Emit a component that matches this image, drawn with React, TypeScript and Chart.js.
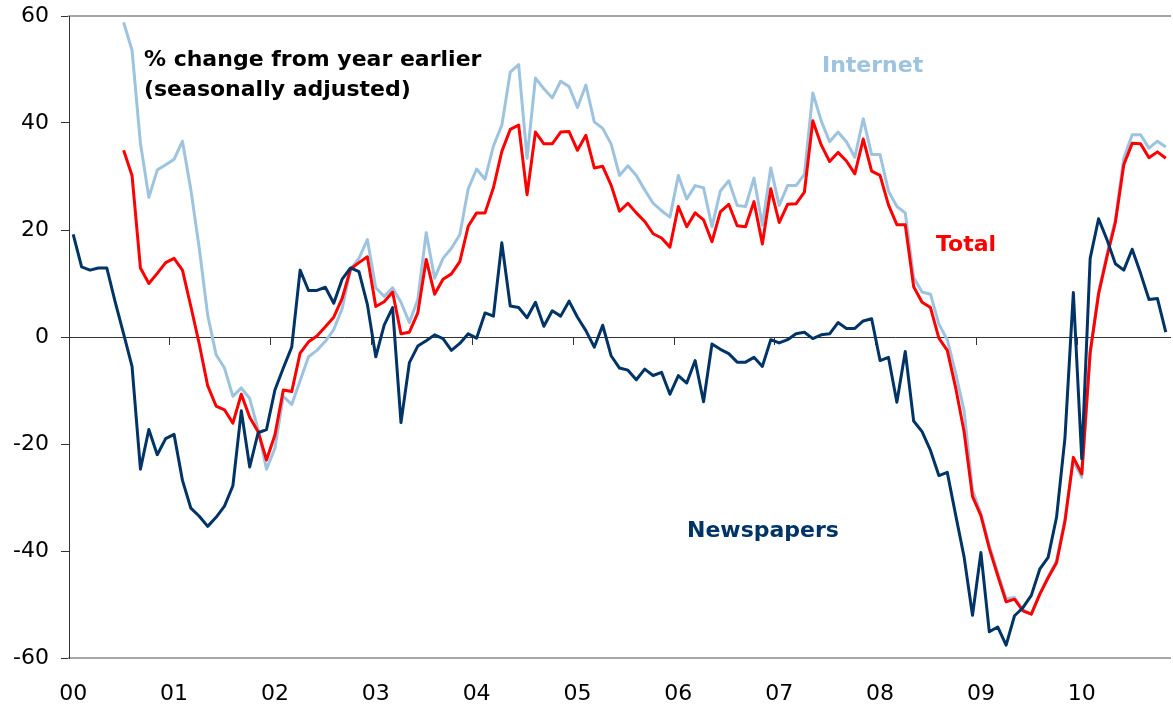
import { useEffect, useRef } from 'react';
import { Chart, registerables } from 'chart.js';

Chart.register(...registerables);

// ---------- data ----------
const yearLabels = ['00', '01', '02', '03', '04', '05', '06', '07', '08', '09', '10'];
const monthNames = ['Jan', 'Feb', 'Mar', 'Apr', 'May', 'Jun', 'Jul', 'Aug', 'Sep', 'Oct', 'Nov', 'Dec'];
const monthCount = 131; // Jan 2000 .. Nov 2010
const categories = Array.from({ length: monthCount }, (_, i) => `${monthNames[i % 12]} ${yearLabels[Math.floor(i / 12)]}`);

const yTickValues = [-60, -40, -20, 0, 20, 40, 60];

const newspapers = [
  19.2, 13.1, 12.5, 12.9, 12.9, 6.5, 0.6, -5.5, -24.7, -17.3, -22.0, -19.0,
  -18.2, -26.8, -32.0, -33.5, -35.4, -33.7, -31.6, -27.8, -13.8, -24.3, -17.9, -17.3,
  -9.9, -5.8, -1.9, 12.5, 8.7, 8.7, 9.3, 6.3, 10.8, 12.9, 12.2, 6.1,
  -3.7, 2.2, 5.5, -16.0, -4.8, -1.7, -0.7, 0.4, -0.3, -2.5, -1.2, 0.6,
  -0.2, 4.5, 3.9, 17.6, 5.8, 5.5, 3.6, 6.5, 2.0, 4.9, 3.9, 6.7,
  3.7, 1.2, -1.9, 2.2, -3.5, -5.8, -6.2, -8.0, -6.0, -7.2, -6.6, -10.7,
  -7.2, -8.6, -4.4, -12.1, -1.3, -2.3, -3.1, -4.7, -4.7, -3.8, -5.5, -0.5,
  -1.1, -0.5, 0.6, 0.9, -0.3, 0.4, 0.6, 2.7, 1.6, 1.6, 3.0, 3.4,
  -4.4, -3.8, -12.2, -2.7, -15.7, -17.7, -21.2, -25.9, -25.3, -33.3, -41.1, -52.0,
  -40.3, -55.1, -54.2, -57.6, -52.1, -50.6, -48.3, -43.4, -41.2, -33.7, -18.9, 8.3,
  -22.8, 14.7, 22.1, 18.2, 13.7, 12.5, 16.4, 11.9, 7.0, 7.2, 0.9,
];

const internet = [
  null, null, null, null, null, null, 58.8, 53.6, 36.2, 26.1, 31.2, 32.2,
  33.2, 36.6, 27.5, 16.6, 4.1, -3.3, -5.8, -11.1, -9.5, -11.5, -17.3, -24.7,
  -20.8, -11.1, -12.6, -8.2, -3.7, -2.5, -0.8, 1.4, 5.3, 12.7, 14.7, 18.2,
  9.2, 7.6, 9.2, 6.5, 2.7, 7.0, 19.5, 11.0, 14.7, 16.6, 19.1, 27.7,
  31.4, 29.5, 35.7, 39.6, 49.5, 50.9, 33.4, 48.4, 46.4, 44.7, 47.8, 46.8,
  42.9, 47.1, 40.2, 39.0, 36.1, 30.2, 32.0, 30.2, 27.5, 25.0, 23.6, 22.4,
  30.2, 25.8, 28.3, 27.9, 20.6, 27.3, 29.2, 24.6, 24.4, 29.7, 20.9, 31.6,
  24.6, 28.3, 28.3, 30.4, 45.6, 40.4, 36.5, 38.3, 36.5, 33.6, 40.8, 34.1,
  34.1, 27.3, 24.4, 23.2, 11.1, 8.4, 8.0, 2.4, -0.5, -6.8, -13.8, -28.6,
  -33.0, -39.0, -44.0, -48.9, -48.7, -51.0, -51.8, -48.0, -44.8, -41.8, -34.0, -23.2,
  -26.2, -3.0, 8.5, 15.5, 22.0, 33.4, 37.8, 37.8, 35.3, 36.6, 35.5,
];

const total = [
  null, null, null, null, null, null, 34.9, 30.2, 12.9, 10.0, 11.9, 13.9,
  14.7, 12.5, 5.7, -1.3, -9.1, -12.9, -13.6, -16.1, -10.7, -15.0, -17.7, -23.0,
  -18.3, -9.9, -10.2, -3.0, -0.9, 0.2, 1.9, 3.7, 7.2, 12.7, 13.9, 15.0,
  5.7, 6.6, 8.4, 0.6, 0.9, 4.5, 14.5, 8.0, 10.8, 11.8, 14.1, 20.7,
  23.2, 23.2, 27.9, 34.7, 38.8, 39.6, 26.6, 38.3, 36.1, 36.1, 38.3, 38.4,
  34.9, 37.7, 31.6, 31.9, 28.4, 23.5, 25.0, 23.2, 21.6, 19.3, 18.5, 16.8,
  24.4, 20.6, 23.2, 21.9, 17.8, 23.4, 24.8, 20.8, 20.6, 25.3, 17.4, 27.7,
  21.4, 24.8, 24.9, 27.1, 40.4, 35.9, 32.8, 34.5, 32.9, 30.5, 37.0, 31.0,
  30.2, 24.7, 21.0, 21.0, 9.4, 6.5, 5.5, -0.2, -2.5, -9.5, -17.7, -29.8,
  -33.4, -39.5, -44.6, -49.5, -49.0, -51.2, -51.8, -48.1, -45.0, -42.2, -34.5, -22.5,
  -25.6, -2.9, 8.0, 15.0, 21.4, 32.2, 36.2, 36.1, 33.5, 34.6, 33.4,
];

// ---------- styles ----------
const FONT = '"DejaVu Sans", Verdana, sans-serif';
const NAVY = '#003366';
const LIGHT = '#9DC3DF';
const RED = '#FF0000';
const AXIS = '#333333';
const FRAME = '#A6A6A6';
const CLEAR = 'rgba(0,0,0,0)';

// text labels anchored in data coordinates (month index, value)
const notes = [
  { text: '% change from year earlier', color: '#000000', month: 8.42, value: 50.65 },
  { text: '(seasonally adjusted)', color: '#000000', month: 8.42, value: 45.1 },
  { text: 'Internet', color: LIGHT, month: 89.09, value: 49.5 },
  { text: 'Total', color: RED, month: 102.65, value: 16.1 },
  { text: 'Newspapers', color: NAVY, month: 73.03, value: -37.4 },
];

const notesPlugin = {
  id: 'notes',
  afterDatasetsDraw(chart: any) {
    const { ctx, scales } = chart;
    ctx.save();
    ctx.font = `bold 22px ${FONT}`;
    ctx.textAlign = 'left';
    ctx.textBaseline = 'alphabetic';
    for (const n of notes) {
      ctx.fillStyle = n.color;
      ctx.fillText(n.text, scales.x.getPixelForValue(n.month), scales.y.getPixelForValue(n.value));
    }
    ctx.restore();
  },
};

const noPadding = (s: any) => {
  s.paddingLeft = 0;
  s.paddingRight = 0;
  s.paddingTop = 0;
  s.paddingBottom = 0;
};

export default function App() {
  const canvasRef = useRef<HTMLCanvasElement | null>(null);

  useEffect(() => {
    document.body.style.margin = '0';
    const canvas = canvasRef.current;
    if (!canvas) return;

    const line = (label: string, data: (number | null)[], color: string) => ({
      label,
      data,
      borderColor: color,
      borderWidth: 3,
      pointRadius: 0,
      tension: 0,
      borderJoinStyle: 'round',
      xAxisID: 'x',
      yAxisID: 'y',
    });

    const chart = new Chart(canvas, {
      type: 'line',
      data: {
        labels: categories,
        datasets: [
          line('Newspapers', newspapers, NAVY),
          line('Total', total, RED),
          line('Internet', internet, LIGHT),
        ],
      },
      options: {
        responsive: false,
        maintainAspectRatio: false,
        animation: false,
        layout: { padding: { top: 16, right: 3, left: 0, bottom: 0 } },
        plugins: {
          legend: { display: false },
          tooltip: { enabled: false },
        },
        scales: {
          x: {
            type: 'category',
            position: 'bottom',
            offset: true,
            afterFit: (s: any) => {
              noPadding(s);
              s.height = 50;
            },
            grid: { display: true, drawOnChartArea: false, drawTicks: false, offset: true },
            border: { display: true, color: FRAME, width: 2 },
            ticks: {
              autoSkip: false,
              maxRotation: 0,
              minRotation: 0,
              padding: 23,
              color: '#000000',
              font: { family: FONT, size: 22 },
              callback: (_v: any, i: number) => (i % 12 === 0 ? yearLabels[i / 12] : ''),
            },
          },
          xZero: {
            type: 'category',
            axis: 'x',
            position: { y: 0 },
            offset: true,
            afterFit: noPadding,
            grid: {
              display: true,
              drawOnChartArea: false,
              offset: true,
              drawTicks: true,
              tickLength: 7,
              tickWidth: 1,
              color: CLEAR,
              tickColor: (ctx: any) => (ctx.type === 'tick' && ctx.index % 12 === 0 ? AXIS : CLEAR),
            },
            border: { display: true, color: AXIS, width: 1 },
            ticks: { display: false, autoSkip: false },
          },
          xTop: {
            type: 'category',
            axis: 'x',
            position: { y: 60 },
            offset: true,
            afterFit: noPadding,
            grid: { display: true, drawOnChartArea: false, drawTicks: false, color: CLEAR },
            border: { display: true, color: FRAME, width: 2 },
            ticks: { display: false, autoSkip: false },
          },
          y: {
            type: 'linear',
            position: 'left',
            min: -60,
            max: 60,
            afterFit: (s: any) => {
              noPadding(s);
              s.width = 69;
            },
            afterBuildTicks: (s: any) => {
              s.ticks = yTickValues.map((v) => ({ value: v }));
            },
            grid: {
              display: true,
              drawOnChartArea: false,
              drawTicks: true,
              tickLength: 8,
              tickWidth: 1,
              tickColor: AXIS,
              color: CLEAR,
            },
            border: { display: true, color: AXIS, width: 1 },
            ticks: {
              padding: 12,
              color: '#000000',
              font: { family: FONT, size: 22 },
            },
          },
        },
      },
      plugins: [notesPlugin],
    } as any);

    return () => {
      chart.destroy();
    };
  }, []);

  return (
    <div style={{ width: 1173, height: 708 }}>
      <canvas ref={canvasRef} width={1173} height={708} style={{ display: 'block' }} />
    </div>
  );
}
